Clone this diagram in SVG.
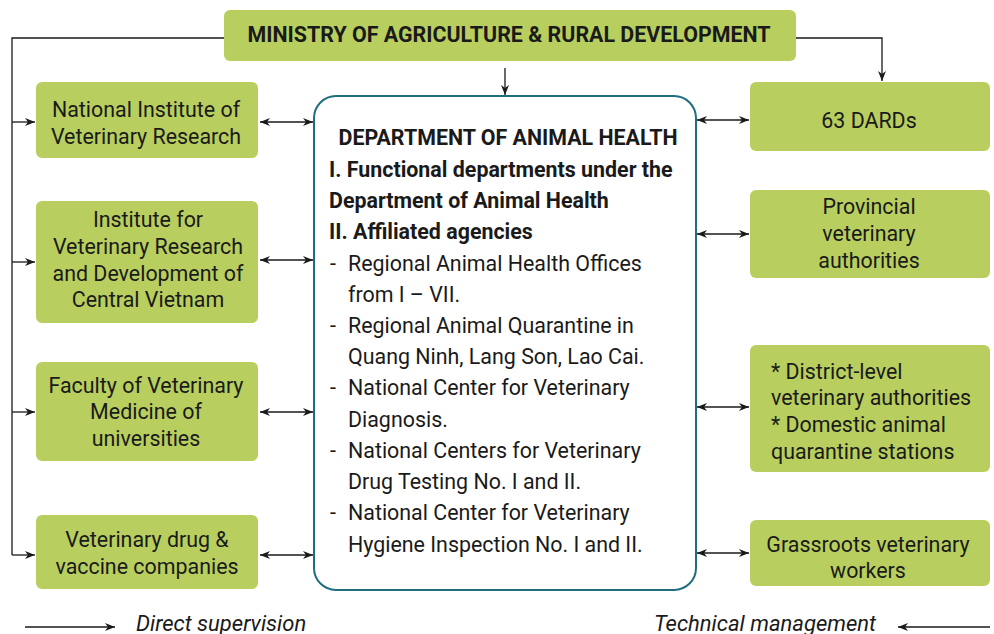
<svg xmlns="http://www.w3.org/2000/svg" width="994" height="634" viewBox="0 0 994 634">
  <defs>
    <style>
      .box { fill: #b8cf5f; }
      .t { font-family: Roboto, "Liberation Sans", sans-serif; font-size: 21.4px; fill: #1a1a1a; }
      .c { text-anchor: middle; }
      .b { font-weight: bold; }
      .i { font-style: italic; font-size: 22px; }
      .ln { fill: none; stroke: #1a1a1a; stroke-width: 1.3; }
    </style>
    <marker id="ah" viewBox="0 0 10 10" refX="10" refY="5" markerWidth="10" markerHeight="10" markerUnits="userSpaceOnUse" orient="auto-start-reverse">
      <path d="M0,1 L10,5 L0,9 L3,5 Z" fill="#1a1a1a"/>
    </marker>
  </defs>
  <rect width="994" height="634" fill="#ffffff"/>

  <!-- connectors -->
  <g id="connectors">
    <path class="ln" d="M224,38 H12 V555" />
    <path class="ln" d="M12,122 H35" marker-end="url(#ah)"/>
    <path class="ln" d="M12,262 H35" marker-end="url(#ah)"/>
    <path class="ln" d="M12,412 H35" marker-end="url(#ah)"/>
    <path class="ln" d="M12,555 H35" marker-end="url(#ah)"/>
    <path class="ln" d="M796,38 H882 V81" marker-end="url(#ah)"/>
    <path class="ln" d="M505,68 V95" marker-end="url(#ah)"/>
    <path class="ln" d="M260,122 H313" marker-start="url(#ah)" marker-end="url(#ah)"/>
    <path class="ln" d="M260,260 H313" marker-start="url(#ah)" marker-end="url(#ah)"/>
    <path class="ln" d="M260,412 H313" marker-start="url(#ah)" marker-end="url(#ah)"/>
    <path class="ln" d="M260,555 H313" marker-start="url(#ah)" marker-end="url(#ah)"/>
    <path class="ln" d="M697,120 H749" marker-start="url(#ah)" marker-end="url(#ah)"/>
    <path class="ln" d="M697,234 H749" marker-start="url(#ah)" marker-end="url(#ah)"/>
    <path class="ln" d="M697,407 H749" marker-start="url(#ah)" marker-end="url(#ah)"/>
    <path class="ln" d="M697,553 H749" marker-start="url(#ah)" marker-end="url(#ah)"/>
    <!-- legend arrows -->
    <path class="ln" d="M25,627 H115" marker-end="url(#ah)"/>
    <path class="ln" d="M990,627 H898" marker-end="url(#ah)"/>
  </g>

  <g id="ministry">
    <rect class="box" x="224" y="10" width="572" height="51" rx="6"/>
    <text class="t b c" x="509" y="42">MINISTRY OF AGRICULTURE &amp; RURAL DEVELOPMENT</text>
  </g>

  <g id="nivr">
    <rect class="box" x="36" y="82" width="222" height="76" rx="6"/>
    <text class="t c" x="146" y="117">National Institute of</text>
    <text class="t c" x="146" y="144">Veterinary Research</text>
  </g>

  <g id="ivrd">
    <rect class="box" x="36" y="201" width="222" height="122" rx="6"/>
    <text class="t c" x="148" y="227">Institute for</text>
    <text class="t c" x="148" y="254">Veterinary Research</text>
    <text class="t c" x="148" y="281">and Development of</text>
    <text class="t c" x="148" y="307">Central Vietnam</text>
  </g>

  <g id="faculty">
    <rect class="box" x="36" y="362" width="222" height="99" rx="6"/>
    <text class="t c" x="146" y="393">Faculty of Veterinary</text>
    <text class="t c" x="146" y="419">Medicine of</text>
    <text class="t c" x="146" y="446">universities</text>
  </g>

  <g id="companies">
    <rect class="box" x="36" y="515" width="222" height="74" rx="6"/>
    <text class="t c" x="147" y="547">Veterinary drug &amp;</text>
    <text class="t c" x="147" y="574">vaccine companies</text>
  </g>

  <g id="dah">
    <rect x="314" y="96" width="382" height="494" rx="22" fill="#ffffff" stroke="#1f6e80" stroke-width="2"/>
    <text class="t b c" x="508" y="145">DEPARTMENT OF ANIMAL HEALTH</text>
    <text class="t b" x="329" y="177">I. Functional departments under the</text>
    <text class="t b" x="329" y="208">Department of Animal Health</text>
    <text class="t b" x="329" y="239">II. Affiliated agencies</text>
    <text class="t" x="330" y="271">-</text>
    <text class="t" x="348" y="271">Regional Animal Health Offices</text>
    <text class="t" x="348" y="302">from I – VII.</text>
    <text class="t" x="330" y="333">-</text>
    <text class="t" x="348" y="333">Regional Animal Quarantine in</text>
    <text class="t" x="348" y="364">Quang Ninh, Lang Son, Lao Cai.</text>
    <text class="t" x="330" y="395">-</text>
    <text class="t" x="348" y="395">National Center for Veterinary</text>
    <text class="t" x="348" y="427">Diagnosis.</text>
    <text class="t" x="330" y="458">-</text>
    <text class="t" x="348" y="458">National Centers for Veterinary</text>
    <text class="t" x="348" y="489">Drug Testing No. I and II.</text>
    <text class="t" x="330" y="520">-</text>
    <text class="t" x="348" y="520">National Center for Veterinary</text>
    <text class="t" x="348" y="552">Hygiene Inspection No. I and II.</text>
  </g>

  <g id="dards">
    <rect class="box" x="750" y="82" width="240" height="69" rx="6"/>
    <text class="t c" x="869" y="128">63 DARDs</text>
  </g>

  <g id="provincial">
    <rect class="box" x="750" y="190" width="240" height="88" rx="6"/>
    <text class="t c" x="869" y="214">Provincial</text>
    <text class="t c" x="869" y="241">veterinary</text>
    <text class="t c" x="869" y="268">authorities</text>
  </g>

  <g id="district">
    <rect class="box" x="750" y="345" width="240" height="127" rx="6"/>
    <text class="t" x="771" y="379">* District-level</text>
    <text class="t" x="771" y="405">veterinary authorities</text>
    <text class="t" x="771" y="432">* Domestic animal</text>
    <text class="t" x="771" y="459">quarantine stations</text>
  </g>

  <g id="grassroots">
    <rect class="box" x="750" y="520" width="240" height="66" rx="6"/>
    <text class="t c" x="868" y="552">Grassroots veterinary</text>
    <text class="t c" x="868" y="578">workers</text>
  </g>

  <g id="legend">
    <text class="t i" x="136" y="631">Direct supervision</text>
    <text class="t i" x="876" y="631" text-anchor="end">Technical management</text>
  </g>
</svg>
